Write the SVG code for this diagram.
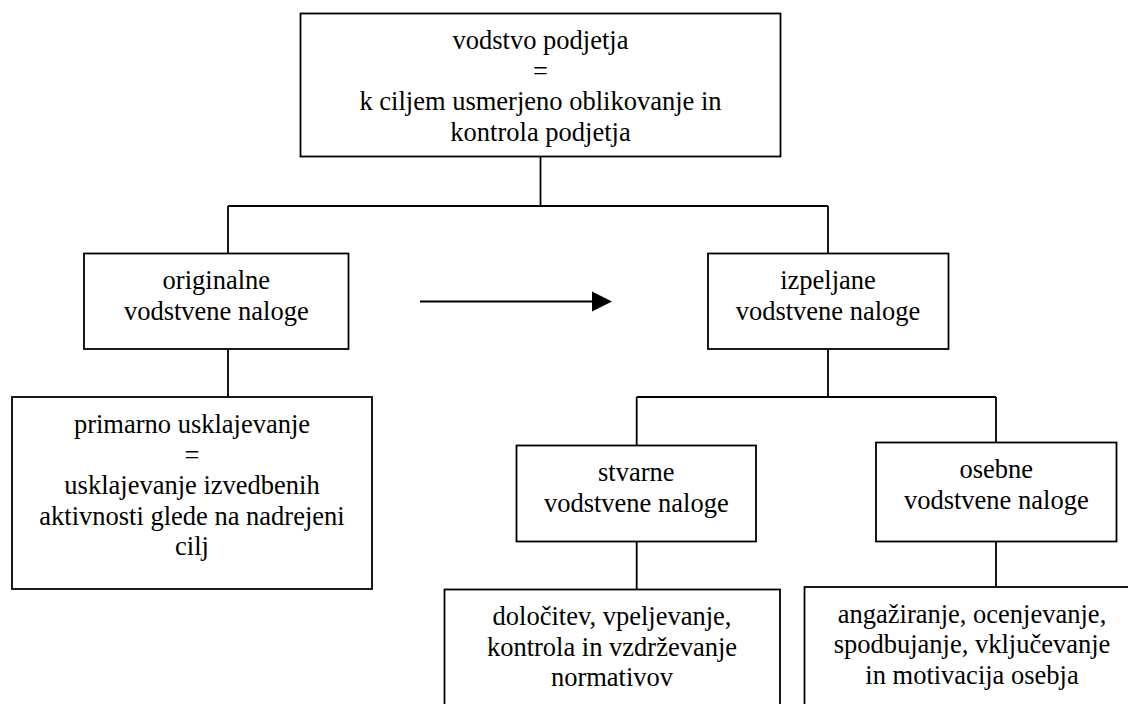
<svg xmlns="http://www.w3.org/2000/svg" width="1128" height="704" viewBox="0 0 1128 704">
<rect width="1128" height="704" fill="#fff"/>
<g id="connectors" fill="none" stroke="#000" stroke-width="1.8">
<path d="M540.5,157 V206 M228,206 H828 M228,206 V253.5 M828,206 V253.5 M228,349 V397 M828,349 V397 M636.7,397 H996 M636.7,397 V445.5 M996,397 V442.5 M636.7,541.5 V589.5 M996,541.5 V587"/>
<path d="M420,301.5 H592"/>
<path d="M592,291.5 L612,301.5 L592,311.5 Z" fill="#000" stroke="none"/>
</g>
<g id="node-top" font-family="Liberation Serif" font-size="26.5" text-anchor="middle">
<rect x="300.5" y="13.5" width="480" height="143" fill="#fff" stroke="#000" stroke-width="1.8"/>
<text x="540.5" y="49">vodstvo podjetja</text>
<text x="540.5" y="79.5">=</text>
<text x="540.5" y="110">k ciljem usmerjeno oblikovanje in</text>
<text x="540.5" y="140.5">kontrola podjetja</text>
</g>
<g id="node-originalne" font-family="Liberation Serif" font-size="26.5" text-anchor="middle">
<rect x="84" y="253.5" width="264.5" height="95.5" fill="#fff" stroke="#000" stroke-width="1.8"/>
<text x="216.3" y="289">originalne</text>
<text x="216.3" y="319.5">vodstvene naloge</text>
</g>
<g id="node-izpeljane" font-family="Liberation Serif" font-size="26.5" text-anchor="middle">
<rect x="708" y="253.5" width="240.5" height="95.5" fill="#fff" stroke="#000" stroke-width="1.8"/>
<text x="828" y="289">izpeljane</text>
<text x="828" y="319.5">vodstvene naloge</text>
</g>
<g id="node-primarno" font-family="Liberation Serif" font-size="26.5" text-anchor="middle">
<rect x="12" y="397" width="360" height="192" fill="#fff" stroke="#000" stroke-width="1.8"/>
<text x="192" y="433">primarno usklajevanje</text>
<text x="192" y="463.5">=</text>
<text x="192" y="494">usklajevanje izvedbenih</text>
<text x="192" y="524.5">aktivnosti glede na nadrejeni</text>
<text x="192" y="555">cilj</text>
</g>
<g id="node-stvarne" font-family="Liberation Serif" font-size="26.5" text-anchor="middle">
<rect x="516.5" y="445.5" width="239.5" height="96" fill="#fff" stroke="#000" stroke-width="1.8"/>
<text x="636.3" y="481">stvarne</text>
<text x="636.3" y="511.5">vodstvene naloge</text>
</g>
<g id="node-osebne" font-family="Liberation Serif" font-size="26.5" text-anchor="middle">
<rect x="876" y="442.5" width="240.5" height="99" fill="#fff" stroke="#000" stroke-width="1.8"/>
<text x="996.3" y="477.5">osebne</text>
<text x="996.3" y="508.5">vodstvene naloge</text>
</g>
<g id="node-dolocitev" font-family="Liberation Serif" font-size="26.5" text-anchor="middle">
<rect x="444.5" y="589.5" width="335.5" height="140" fill="#fff" stroke="#000" stroke-width="1.8"/>
<text x="612" y="625">določitev, vpeljevanje,</text>
<text x="612" y="655.5">kontrola in vzdrževanje</text>
<text x="612" y="686">normativov</text>
</g>
<g id="node-angaziranje" font-family="Liberation Serif" font-size="26.5" text-anchor="middle">
<rect x="804.5" y="587" width="335" height="140" fill="#fff" stroke="#000" stroke-width="1.8"/>
<text x="972" y="622.5">angažiranje, ocenjevanje,</text>
<text x="972" y="653">spodbujanje, vključevanje</text>
<text x="972" y="683.5">in motivacija osebja</text>
</g>
</svg>
